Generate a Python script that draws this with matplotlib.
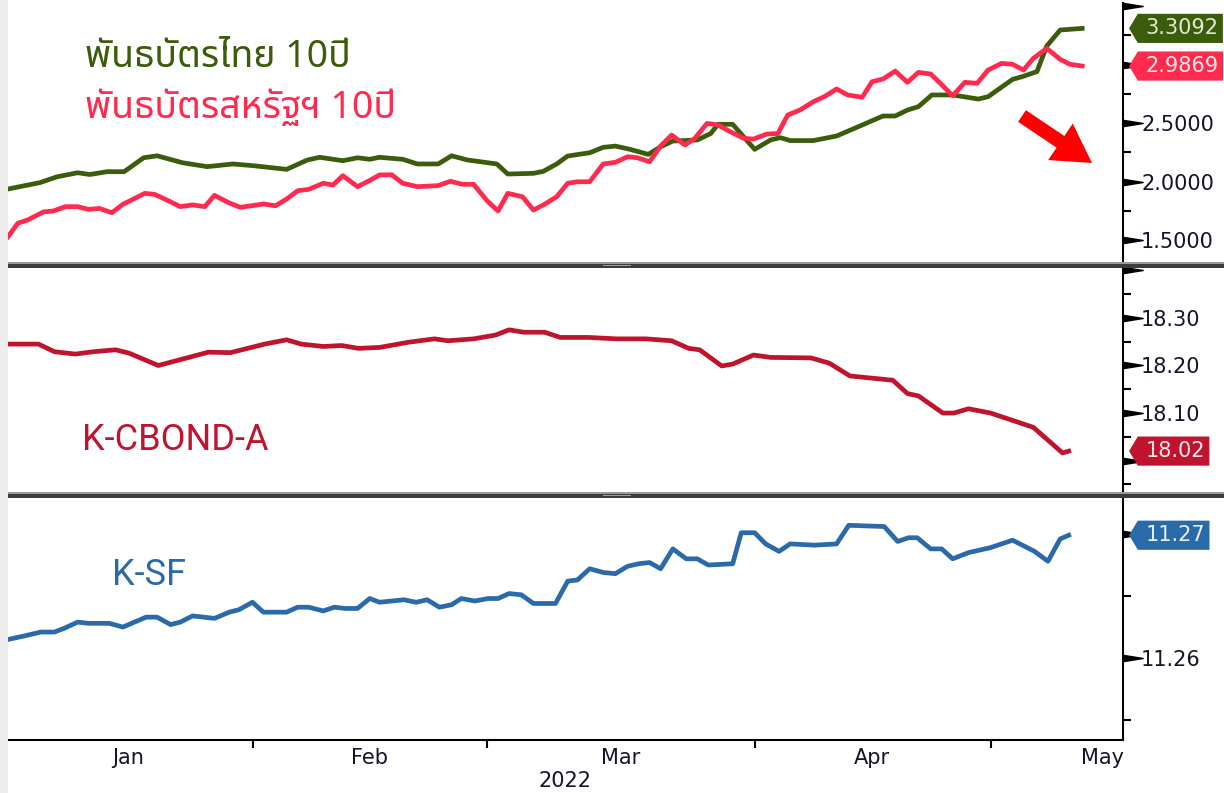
import numpy as np
import matplotlib
matplotlib.use('Agg')
import matplotlib.pyplot as plt
from matplotlib import font_manager
from matplotlib.ft2font import FT2Font
from matplotlib.path import Path
from matplotlib.patches import Rectangle, FancyArrow
from matplotlib.transforms import IdentityTransform

# x = position on the trading-day axis (0 = left edge of the chart)
thai_t = [0.0, 2.6, 4.0, 5.7, 6.7, 8.1, 9.5, 11.1, 12.2, 14.3, 16.3, 18.4, 20.1, 22.8, 24.5,
          25.5, 27.4, 28.6, 29.6, 30.4, 32.3, 33.5, 35.2, 36.3, 37.6, 40.0, 40.9, 43.0, 43.8,
          44.9, 45.8, 47.6, 48.7, 49.7, 50.9, 52.4, 53.4, 54.4, 56.4, 57.5, 58.1, 59.3, 61.1,
          62.4, 63.2, 64.0, 65.9, 67.8, 69.7, 71.6, 72.6, 73.6, 74.5, 75.6, 77.3, 79.4, 80.2,
          82.2, 83.1, 84.2, 85.0, 86.1, 87.9]
thai_y = [1.936, 1.990, 2.040, 2.075, 2.060, 2.084, 2.084, 2.203, 2.220, 2.160, 2.127, 2.150,
          2.135, 2.104, 2.184, 2.207, 2.178, 2.203, 2.190, 2.207, 2.190, 2.150, 2.150, 2.220,
          2.184, 2.150, 2.064, 2.070, 2.087, 2.150, 2.218, 2.246, 2.292, 2.303, 2.275, 2.232,
          2.297, 2.346, 2.355, 2.410, 2.489, 2.489, 2.275, 2.355, 2.375, 2.350, 2.350, 2.389,
          2.474, 2.560, 2.560, 2.611, 2.640, 2.740, 2.740, 2.705, 2.725, 2.873, 2.900, 2.940,
          3.158, 3.295, 3.309]

us_t = [0.0, 0.8, 1.6, 2.9, 3.7, 4.7, 5.7, 6.6, 7.5, 8.5, 9.4, 11.2, 12.0, 13.0, 14.1, 15.1,
        16.1, 16.9, 18.0, 19.0, 20.9, 21.9, 22.8, 23.7, 24.6, 25.8, 26.6, 27.4, 28.6, 29.6,
        30.4, 31.4, 32.3, 33.5, 35.2, 36.2, 37.2, 38.1, 39.2, 40.1, 40.9, 42.1, 43.0, 43.9,
        44.9, 45.8, 46.6, 47.6, 48.7, 49.7, 50.7, 51.5, 52.5, 53.4, 54.3, 55.4, 56.2, 57.2,
        58.1, 59.1, 60.2, 61.0, 62.1, 63.0, 63.8, 64.8, 65.9, 66.9, 67.8, 68.7, 69.9, 70.7,
        71.6, 72.6, 73.6, 74.5, 75.5, 76.3, 77.3, 78.3, 79.3, 80.2, 81.3, 82.2, 83.1, 83.9,
        85.0, 86.1, 86.9, 87.9]
us_y = [1.528, 1.643, 1.671, 1.740, 1.748, 1.785, 1.785, 1.762, 1.770, 1.733, 1.805, 1.899,
        1.890, 1.842, 1.785, 1.800, 1.785, 1.882, 1.822, 1.779, 1.808, 1.793, 1.850, 1.921,
        1.933, 1.985, 1.970, 2.050, 1.956, 2.009, 2.056, 2.058, 1.985, 1.956, 1.965, 2.002,
        1.976, 1.976, 1.836, 1.748, 1.899, 1.870, 1.756, 1.805, 1.870, 1.985, 1.998, 1.998,
        2.150, 2.164, 2.212, 2.203, 2.169, 2.303, 2.397, 2.312, 2.369, 2.497, 2.483, 2.426,
        2.369, 2.363, 2.406, 2.410, 2.568, 2.611, 2.682, 2.731, 2.791, 2.740, 2.720, 2.853,
        2.876, 2.944, 2.848, 2.933, 2.919, 2.839, 2.733, 2.848, 2.839, 2.953, 3.010, 3.002,
        2.953, 3.053, 3.138, 3.044, 3.002, 2.987]

cbond_t = [0.0, 2.5, 3.8, 5.5, 7.0, 8.8, 9.9, 12.3, 16.4, 18.2, 19.6, 21.0, 22.8, 24.0, 25.8,
           27.3, 28.7, 30.4, 32.8, 34.9, 36.0, 38.1, 39.9, 41.0, 42.2, 43.9, 45.2, 47.5, 49.8,
           52.2, 54.3, 55.7, 56.6, 58.4, 59.3, 61.0, 62.4, 65.7, 67.2, 68.9, 72.4, 73.6, 74.5,
           76.5, 77.4, 78.6, 80.4, 83.9, 86.3, 86.8]
cbond_y = [18.245, 18.245, 18.229, 18.224, 18.229, 18.233, 18.226, 18.200, 18.228, 18.227,
           18.236, 18.245, 18.254, 18.245, 18.240, 18.242, 18.236, 18.238, 18.249, 18.256,
           18.252, 18.256, 18.264, 18.275, 18.270, 18.270, 18.259, 18.259, 18.256, 18.256,
           18.252, 18.236, 18.233, 18.199, 18.203, 18.222, 18.217, 18.216, 18.205, 18.178,
           18.169, 18.141, 18.136, 18.100, 18.100, 18.109, 18.100, 18.070, 18.016, 18.020]

ksf_t = [0.0, 1.4, 2.7, 3.8, 4.6, 5.7, 6.6, 8.3, 9.4, 11.3, 12.2, 13.3, 14.1, 15.1, 16.9,
         18.1, 18.9, 20.0, 20.9, 22.8, 23.7, 24.6, 25.8, 26.7, 27.6, 28.6, 29.6, 30.4, 32.4,
         33.4, 34.3, 35.3, 36.3, 37.1, 38.2, 39.3, 40.1, 41.0, 42.0, 43.0, 44.8, 45.8, 46.6,
         47.6, 48.7, 49.7, 50.7, 51.6, 52.5, 53.4, 54.4, 55.5, 56.4, 57.3, 59.3, 60.0, 61.1,
         62.0, 63.1, 64.0, 66.0, 67.8, 68.8, 71.7, 72.8, 73.7, 74.4, 75.5, 76.4, 77.3, 78.6,
         80.4, 82.2, 84.0, 85.1, 86.1, 86.8]
ksf_y = [11.2615, 11.2618, 11.2621, 11.2621, 11.2624, 11.2629, 11.2628, 11.2628, 11.2625,
         11.2633, 11.2633, 11.2627, 11.2629, 11.2634, 11.2632, 11.2637, 11.2639, 11.2645,
         11.2637, 11.2637, 11.2641, 11.2641, 11.2638, 11.2641, 11.2640, 11.2640, 11.2648,
         11.2645, 11.2647, 11.2645, 11.2647, 11.2641, 11.2643, 11.2648, 11.2646, 11.2648,
         11.2648, 11.2652, 11.2651, 11.2644, 11.2644, 11.2662, 11.2663, 11.2672, 11.2669,
         11.2668, 11.2674, 11.2676, 11.2677, 11.2672, 11.2688, 11.2680, 11.2680, 11.2675,
         11.2676, 11.2701, 11.2701, 11.2692, 11.2686, 11.2692, 11.2691, 11.2692, 11.2707,
         11.2706, 11.2694, 11.2697, 11.2697, 11.2688, 11.2688, 11.2680, 11.2685, 11.2689,
         11.2695, 11.2686, 11.2678, 11.2696, 11.2699]

last_thai, last_us, last_cbond, last_ksf = '3.3092', '2.9869', '18.02', '11.27'

month_pos = [9.8, 29.6, 50.1, 70.7, 89.6]
month_lbl = ['Jan', 'Feb', 'Mar', 'Apr', 'May']
mid_ticks = [20.05, 39.2, 61.1, 80.4]

green, red, crimson, blue = '#3b5c0a', '#ff2a4d', '#c0142e', '#2b6aa8'
tick_col = '#14142a'


def find_thai_font():
    prefer = ['Noto Sans Thai', 'Noto Sans Thai Looped', 'Loma', 'Garuda', 'Umpush',
              'Waree', 'Sawasdee', 'Kinnari', 'Norasi', 'Tlwg Typo']
    found = {}
    for f in font_manager.fontManager.ttflist:
        try:
            if 0x0E1E in FT2Font(f.fname).get_charmap():
                found.setdefault(f.name, f.fname)
        except Exception:
            pass
    for p in prefer:
        if p in found:
            return p
    return next(iter(found), 'DejaVu Sans')


thai_font = find_thai_font()
plt.rcParams['font.family'] = ['DejaVu Sans']


def tag_box(x0, y0, width, height, mutation_size):
    pad = 0.22 * mutation_size
    x0, y0 = x0 - pad, y0 - pad
    x1, y1 = x0 + width + 2 * pad, y0 + height + 2 * pad
    h = y1 - y0
    return Path([(x0 - 0.4 * h, y0 + h / 2), (x0 - 0.1 * h, y0), (x1, y0), (x1, y1),
                 (x0 - 0.1 * h, y1), (x0 - 0.4 * h, y0 + h / 2)], closed=True)


W, H = 1224, 793
fig = plt.figure(figsize=(W / 100, H / 100), dpi=100, facecolor='white')
left, width = 8 / W, 1115 / W
ax1 = fig.add_axes([left, 1 - 262 / H, width, 259 / H])
ax2 = fig.add_axes([left, 1 - 492 / H, width, 224 / H])
ax3 = fig.add_axes([left, 1 - 740 / H, width, 242 / H])

ax1.plot(thai_t, thai_y, color=green, lw=3.4)
ax1.plot(us_t, us_y, color=red, lw=3.4)
ax2.plot(cbond_t, cbond_y, color=crimson, lw=3.4)
ax3.plot(ksf_t, ksf_y, color=blue, lw=3.4)

ax1.set_ylim(1.312, 3.526)
ax2.set_ylim(17.934, 18.405)
ax3.set_ylim(11.2534, 11.2729)

majors = [[1.5, 2.0, 2.5, 3.0, 3.5], [18.0, 18.1, 18.2, 18.3, 18.4], [11.26, 11.27]]
major_lbl = [['1.5000', '2.0000', '2.5000', '', ''], ['', '18.10', '18.20', '18.30', ''],
             ['11.26', '']]
minors = [[1.75, 2.25, 2.75, 3.25], [17.95, 18.05, 18.15, 18.25, 18.35], [11.255, 11.265]]

tri = [(-1, -0.32), (-1, 0.32), (1, 0), (-1, -0.32)]
for ax, mj, ml, mn in zip([ax1, ax2, ax3], majors, major_lbl, minors):
    ax.set_xlim(0, 91.24)
    ax.yaxis.tick_right()
    ax.set_yticks(mj)
    ax.set_yticklabels(ml)
    ax.set_yticks(mn, minor=True)
    ax.tick_params(axis='y', which='major', length=0, pad=13, labelsize=15,
                   labelcolor=tick_col)
    ax.tick_params(axis='y', which='minor', length=6, width=1.5, color='black')
    ax.plot([1.0087] * len(mj), mj, linestyle='none', marker=tri, markersize=14,
            color='black', transform=ax.get_yaxis_transform(), clip_on=False)
    for s in ['left', 'top', 'bottom']:
        ax.spines[s].set_visible(False)
    ax.spines['right'].set_linewidth(1.5)
    ax.spines['right'].set_color('black')
    ax.set_xticks([])

ax3.spines['bottom'].set_visible(True)
ax3.spines['bottom'].set_linewidth(1.5)
ax3.set_xticks(month_pos)
ax3.set_xticklabels(month_lbl)
ax3.set_xticks(mid_ticks, minor=True)
ax3.tick_params(axis='x', which='major', length=0, pad=6, labelsize=15, labelcolor=tick_col)
ax3.tick_params(axis='x', which='minor', length=6, width=1.5, color='black')
fig.text(565 / W, 1 - 781 / H, '2022', ha='center', va='center', fontsize=15, color=tick_col)

# last-value tags
for ax, val, txt, col, tc in [(ax1, thai_y[-1], last_thai, green, '#e4ead2'),
                              (ax1, us_y[-1], last_us, red, '#ffe8ec'),
                              (ax2, cbond_y[-1], last_cbond, crimson, '#ffe6ea'),
                              (ax3, ksf_y[-1], last_ksf, blue, '#e6eef8')]:
    ax.text(1.02, val, txt, transform=ax.get_yaxis_transform(), ha='left', va='center',
            fontsize=15, color=tc, clip_on=False, zorder=5,
            bbox=dict(boxstyle=tag_box, fc=col, ec='none'))

# series labels
fig.text(85 / W, 1 - 67 / H, 'พันธบัตรไทย 10ปี', family=[thai_font, 'DejaVu Sans'],
         fontsize=27, fontweight='bold', color=green, va='baseline')
fig.text(85 / W, 1 - 118 / H, 'พันธบัตรสหรัฐฯ 10ปี', family=[thai_font, 'DejaVu Sans'],
         fontsize=27, fontweight='bold', color=red, va='baseline')
fig.text(82 / W, 1 - 450 / H, 'K-CBOND-A', family=['Roboto', 'DejaVu Sans'],
         fontsize=26, color=crimson, va='baseline')
fig.text(112 / W, 1 - 585 / H, 'K-SF', family=['Roboto', 'DejaVu Sans'],
         fontsize=26, color=blue, va='baseline')

# panel separators and left margin
for y in [262, 492]:
    fig.add_artist(Rectangle((8 / W, 1 - (y + 6) / H), 1 - 8 / W, 6 / H,
                             transform=fig.transFigure, fc='#3c3c3c', ec='none'))
    fig.add_artist(Rectangle((8 / W, 1 - (y + 1.5) / H), 1 - 8 / W, 1.5 / H,
                             transform=fig.transFigure, fc='#9a9a9a', ec='none'))
    fig.add_artist(Rectangle((603 / W, 1 - (y + 3.5) / H), 28 / W, 1 / H,
                             transform=fig.transFigure, fc='#a0a0a0', ec='none'))
fig.add_artist(Rectangle((0, 0), 8 / W, 1, transform=fig.transFigure, fc='#ececec', ec='none'))

# red arrow
fig.add_artist(FancyArrow(1022, H - 116, 70, -47, width=14, head_width=44, head_length=38,
                          length_includes_head=True, color='#ff0000', ec='none',
                          transform=IdentityTransform()))

fig.savefig('out.png', dpi=100, facecolor='white')
